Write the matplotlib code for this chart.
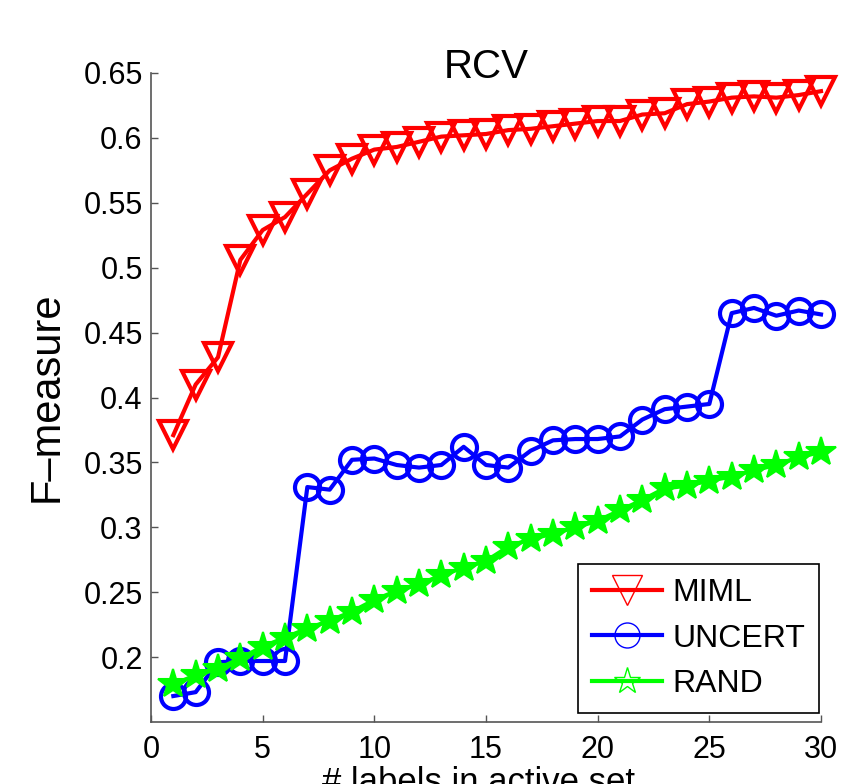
import matplotlib

matplotlib.use("Agg")
import matplotlib.pyplot as plt
from matplotlib.lines import Line2D

plt.rcParams["font.family"] = ["Liberation Sans", "DejaVu Sans"]

x = list(range(1, 31))
miml = [0.371, 0.410, 0.431, 0.506, 0.529, 0.539, 0.557, 0.575, 0.584, 0.591,
        0.593, 0.597, 0.601, 0.602, 0.603, 0.606, 0.607, 0.609, 0.611, 0.613,
        0.613, 0.618, 0.619, 0.626, 0.628, 0.631, 0.632, 0.631, 0.633, 0.636]
uncert = [0.170, 0.173, 0.196, 0.197, 0.197, 0.197, 0.331, 0.329, 0.352, 0.353,
          0.348, 0.346, 0.348, 0.362, 0.348, 0.346, 0.359, 0.367, 0.368, 0.368,
          0.370, 0.383, 0.391, 0.393, 0.395, 0.465, 0.469, 0.463, 0.467, 0.464]
rand = [0.179, 0.186, 0.191, 0.199, 0.208, 0.215, 0.222, 0.228, 0.235, 0.244,
        0.251, 0.256, 0.263, 0.269, 0.274, 0.285, 0.291, 0.295, 0.300, 0.305,
        0.313, 0.321, 0.330, 0.332, 0.336, 0.339, 0.344, 0.348, 0.354, 0.358]
labels = ["MIML", "UNCERT", "RAND"]
colors = ["#ff0000", "#0000ff", "#00ff00"]

fig = plt.figure(figsize=(8.47, 7.84), dpi=100)
ax = fig.add_axes([151 / 847, 62 / 784, 670 / 847, 649 / 784])

ax.plot(x, miml, color=colors[0], lw=3, marker="v", ms=20, mew=3, mfc="none", clip_on=False)
ax.plot(x, uncert, color=colors[1], lw=3, marker="o", ms=18, mew=3, mfc="none", clip_on=False)
ax.plot(x, rand, color=colors[2], lw=3, marker="*", ms=22, mew=1.5, mfc=colors[2], clip_on=False)

ax.set_xlim(0, 30)
ax.set_ylim(0.15, 0.65)
ax.set_xticks(range(0, 31, 5))
ax.set_yticks([0.2, 0.25, 0.3, 0.35, 0.4, 0.45, 0.5, 0.55, 0.6, 0.65])
ax.set_yticklabels(["0.2", "0.25", "0.3", "0.35", "0.4", "0.45", "0.5", "0.55", "0.6", "0.65"])
for s in ("top", "right"):
    ax.spines[s].set_visible(False)
for s in ("left", "bottom"):
    ax.spines[s].set_color("#555555")
    ax.spines[s].set_linewidth(1.2)
ax.tick_params(direction="in", length=5, width=1, colors="#555555",
               labelcolor="black", labelsize=22)
ax.tick_params(axis="x", pad=9)
ax.tick_params(axis="y", pad=6)

ax.text(0.5, 0.992, "RCV", transform=ax.transAxes, ha="center", va="baseline", fontsize=29)
fig.text(47 / 847, 1 - 397 / 784, "F\u2013measure", rotation=90, ha="center", va="center", fontsize=30)
# x label sits partly below the figure edge, as in the source image
fig.text(478 / 847, 1 - 792 / 784, "# labels in active set", ha="center", va="baseline", fontsize=25)

handles = [
    Line2D([], [], color=colors[0], lw=3, marker="v", ms=22, mew=1, mfc="none"),
    Line2D([], [], color=colors[1], lw=3, marker="o", ms=18, mew=1, mfc="none"),
    Line2D([], [], color=colors[2], lw=3, marker="*", ms=20, mew=1, mfc="none"),
]
leg = ax.legend(handles, labels, loc="lower right", bbox_to_anchor=(0.9975, 0.0134),
                fontsize=23, handlelength=2.2, handletextpad=0.3, borderpad=0.45,
                labelspacing=0.48, borderaxespad=0, fancybox=False, framealpha=1)
leg.get_frame().set_edgecolor("black")
leg.get_frame().set_linewidth(1.2)

fig.savefig("out.png", dpi=100)
